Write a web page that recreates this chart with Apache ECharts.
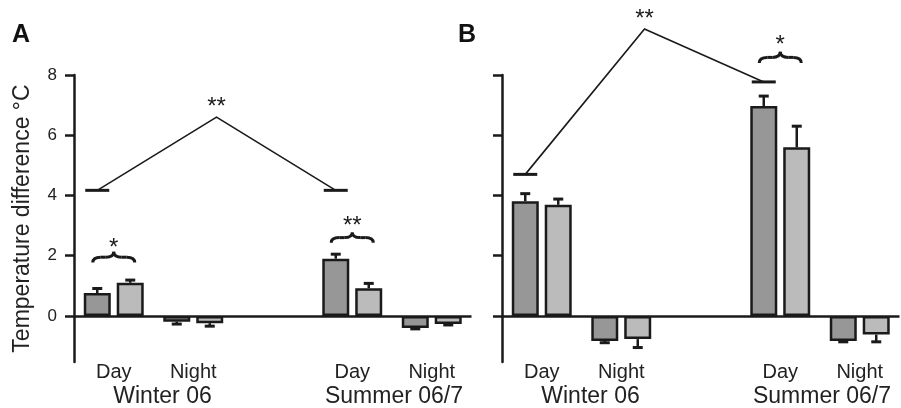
<!DOCTYPE html>
<html>
<head>
<meta charset="utf-8">
<script src="https://cdn.jsdelivr.net/npm/echarts@6/dist/echarts.min.js"></script>
<style>
  html, body { margin: 0; padding: 0; background: #fff; }
  #chart { width: 901px; height: 408px; }
</style>
</head>
<body>
<div id="chart"></div>
<script>
// Categories along each panel's x axis (the blank slot separates the seasons)
const categories = ['Day', 'Night', '', 'Day', 'Night'];
const groupLabels = ['Winter 06', 'Summer 06/7'];
const yTicks = [0, 2, 4, 6, 8];
const yAxisName = 'Temperature difference °C';
const panelLetters = ['A', 'B'];

// Panel A: mean temperature difference and standard error
const aDark = [0.76, -0.19, null, 1.9, -0.4];
const aDarkErr = [0.15, 0.08, null, 0.15, 0.03];
const aLight = [1.1, -0.24, null, 0.92, -0.27];
const aLightErr = [0.09, 0.1, null, 0.16, 0.03];

// Panel B
const bDark = [3.81, -0.83, null, 6.97, -0.83];
const bDarkErr = [0.25, 0.06, null, 0.33, 0.03];
const bLight = [3.69, -0.77, null, 5.6, -0.62];
const bLightErr = [0.19, 0.28, null, 0.7, 0.24];

// Season comparison brackets: [panel, left value, right value, apex value, label]
const seasonBrackets = [
  [0, 4.17, 4.17, 6.6, '**'],
  [1, 4.7, 7.77, 9.53, '**']
];
// Pair braces: [panel, category, end value, peak value, label value, label]
const pairBraces = [
  [0, 0, 1.77, 2.13, 2.37, '*'],
  [0, 3, 2.43, 2.77, 3.1, '**'],
  [1, 3, 8.4, 8.77, 9.1, '*']
];

const DARK = '#979797';
const LIGHT = '#bbbbbb';
const INK = '#1a1a1a';
const FONT = 'Liberation Sans, Arial, Helvetica, sans-serif';
const BAR_W = 27;
const BAR_OFF = 16.5;

const chart = echarts.init(document.getElementById('chart'), null, { renderer: 'canvas' });

function errData(vals, errs) {
  const out = [];
  vals.forEach((v, i) => { if (v !== null) out.push([i, v, errs[i]]); });
  return out;
}

function errSeries(panel, vals, errs, offset) {
  return {
    type: 'custom',
    xAxisIndex: panel,
    yAxisIndex: panel,
    z: 3,
    silent: true,
    data: errData(vals, errs),
    renderItem: function (params, api) {
      const cat = api.value(0), v = api.value(1), e = api.value(2);
      const base = api.coord([cat, v]);
      const end = api.coord([cat, v + (v >= 0 ? e : -e)]);
      const x = base[0] + offset;
      return {
        type: 'group',
        children: [
          { type: 'line', shape: { x1: x, y1: base[1], x2: x, y2: end[1] },
            style: { stroke: INK, lineWidth: 2.5 } },
          { type: 'line', shape: { x1: x - 5, y1: end[1], x2: x + 5, y2: end[1] },
            style: { stroke: INK, lineWidth: 3 } }
        ]
      };
    }
  };
}

function barSeries(panel, vals, color, withZeroLine) {
  const s = {
    type: 'bar',
    xAxisIndex: panel,
    yAxisIndex: panel,
    data: vals,
    barWidth: BAR_W,
    barGap: '22%',
    itemStyle: { color: color, borderColor: INK, borderWidth: 2.5 },
    silent: true,
    z: 2
  };
  if (withZeroLine) {
    // baseline at zero across the panel
    s.markLine = {
      silent: true,
      symbol: 'none',
      label: { show: false },
      lineStyle: { color: INK, width: 2.5, type: 'solid' },
      data: [{ yAxis: 0 }],
      z: 4
    };
  }
  return s;
}

function xAxisFor(panel) {
  return {
    type: 'category',
    gridIndex: panel,
    data: categories,
    axisTick: { show: false },
    axisLine: { show: false, onZero: false },
    axisLabel: { color: '#222', fontSize: 20, fontFamily: FONT, margin: 0, interval: 0 }
  };
}

function yAxisFor(panel) {
  return {
    type: 'value',
    gridIndex: panel,
    min: -1.53,
    max: 8,
    name: panel === 0 ? yAxisName : '',
    nameLocation: 'middle',
    nameGap: 40,
    nameTextStyle: { color: '#222', fontSize: 23, fontFamily: FONT },
    splitLine: { show: false },
    axisLine: { show: true, onZero: false, lineStyle: { color: INK, width: 2.5 } },
    axisTick: { show: true, length: 9, customValues: yTicks, lineStyle: { color: INK, width: 2.5 } },
    axisLabel: { show: panel === 0, customValues: yTicks, color: '#222', fontSize: 17, fontFamily: FONT, margin: 17 }
  };
}

chart.setOption({
  animation: false,
  backgroundColor: '#fff',
  grid: [
    { left: 74, top: 75, width: 397.5, height: 287, containLabel: false, outerBoundsMode: 'none' },
    { left: 502, top: 75, width: 397.5, height: 287, containLabel: false, outerBoundsMode: 'none' }
  ],
  xAxis: [xAxisFor(0), xAxisFor(1)],
  yAxis: [yAxisFor(0), yAxisFor(1)],
  series: [
    barSeries(0, aDark, DARK, true),
    barSeries(0, aLight, LIGHT, false),
    errSeries(0, aDark, aDarkErr, -BAR_OFF),
    errSeries(0, aLight, aLightErr, BAR_OFF),
    barSeries(1, bDark, DARK, true),
    barSeries(1, bLight, LIGHT, false),
    errSeries(1, bDark, bDarkErr, -BAR_OFF),
    errSeries(1, bLight, bLightErr, BAR_OFF)
  ]
});

// Annotations placed through each panel's axes
function px(panel, cat, val) {
  return chart.convertToPixel({ xAxisIndex: panel, yAxisIndex: panel }, [cat, val]);
}

const graphics = [];

function star(x, y, label) {
  graphics.push({
    type: 'text', x: x, y: y, z: 10,
    style: { text: label, fill: INK, fontSize: 24, fontFamily: FONT, align: 'center', verticalAlign: 'middle' }
  });
}

function seg(x1, y1, x2, y2, w) {
  graphics.push({ type: 'line', z: 10, shape: { x1: x1, y1: y1, x2: x2, y2: y2 }, style: { stroke: INK, lineWidth: w } });
}

function curve(x1, y1, cx, cy, x2, y2) {
  graphics.push({
    type: 'bezierCurve', z: 10,
    shape: { x1: x1, y1: y1, x2: x2, y2: y2, cpx1: cx, cpy1: cy },
    style: { stroke: INK, lineWidth: 3, fill: null }
  });
}

seasonBrackets.forEach(([panel, vL, vR, vTop, label]) => {
  const pL = px(panel, 0, vL);
  const pR = px(panel, 3, vR);
  const xl = pL[0] - BAR_OFF, xr = pR[0] - BAR_OFF;
  const apexY = px(panel, 0, vTop)[1];
  const apexX = (xl + xr) / 2;
  seg(xl - 12, pL[1], xl + 12, pL[1], 3);
  seg(xr - 12, pR[1], xr + 12, pR[1], 3);
  graphics.push({
    type: 'polyline', z: 10,
    shape: { points: [[xl, pL[1]], [apexX, apexY], [xr, pR[1]]] },
    style: { stroke: INK, lineWidth: 1.6, fill: null }
  });
  star(apexX, apexY - 10, label);
});

pairBraces.forEach(([panel, cat, vEnd, vPeak, vLabel, label]) => {
  const c = px(panel, cat, vEnd);
  const cx = c[0];
  const yb = c[1];
  const yp = px(panel, cat, vPeak)[1];
  const ym = (yb + yp) / 2;
  const w = 21, r = 8;
  curve(cx - w, yb, cx - w, ym, cx - w + r, ym);
  seg(cx - w + r, ym, cx - r, ym, 3);
  curve(cx - r, ym, cx, ym, cx, yp);
  curve(cx, yp, cx, ym, cx + r, ym);
  seg(cx + r, ym, cx + w - r, ym, 3);
  curve(cx + w - r, ym, cx + w, ym, cx + w, yb);
  star(cx, px(panel, cat, vLabel)[1] + 4, label);
});

// Season names under each pair of categories, and panel letters
[0, 1].forEach(panel => {
  const w0 = px(panel, 0, 0)[0], w1 = px(panel, 1, 0)[0];
  const s0 = px(panel, 3, 0)[0], s1 = px(panel, 4, 0)[0];
  [[(w0 + w1) / 2 + 9, groupLabels[0]], [(s0 + s1) / 2 + 2, groupLabels[1]]].forEach(([x, t]) => {
    graphics.push({
      type: 'text', x: x, y: 397, z: 10,
      style: { text: t, fill: '#222', fontSize: 23, fontFamily: FONT, align: 'center', verticalAlign: 'middle' }
    });
  });
  graphics.push({
    type: 'text', x: panel === 0 ? 12 : 458, y: 35, z: 10,
    style: { text: panelLetters[panel], fill: '#111', fontSize: 25, fontWeight: 'bold', fontFamily: FONT, align: 'left', verticalAlign: 'middle' }
  });
});

chart.setOption({ graphic: graphics });
</script>
</body>
</html>
